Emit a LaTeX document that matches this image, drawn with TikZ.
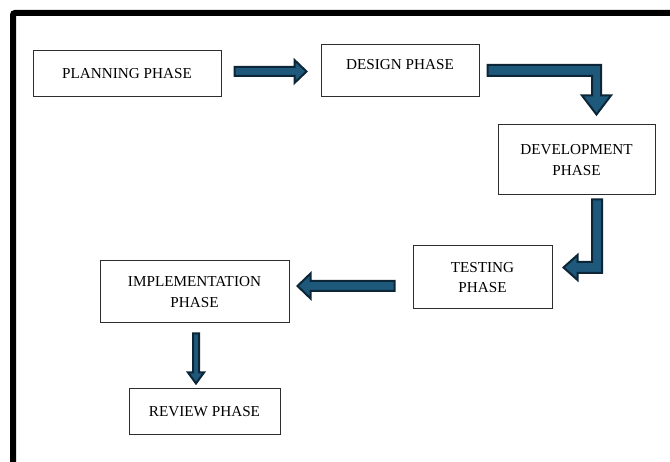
\documentclass[tikz,border=0pt]{standalone}
\usepackage{fontspec}
\setmainfont{Liberation Serif}
\usetikzlibrary{calc}

\definecolor{arrowfill}{RGB}{30,88,122}
\definecolor{arrowline}{RGB}{12,38,56}
\definecolor{boxline}{RGB}{45,45,45}

\tikzset{
  phasebox/.style={draw=boxline, line width=1pt, rectangle, align=center,
    font=\fontsize{15.2}{20.5}\selectfont, text=black, inner sep=0pt},
  blockarrow/.style={fill=arrowfill, draw=arrowline, line width=2pt, line join=miter},
  frameline/.style={line width=6pt, rounded corners=2pt}
}

\begin{document}
\begin{tikzpicture}[x=1pt, y=1pt]
  \useasboundingbox (0,0) rectangle (670,461);
  \clip (0,0) rectangle (670,461);

  % outer frame (top and left edges)
  \draw[frameline] (13,-20) -- (13,448) -- (700,448);

  % phases
  \node[phasebox, minimum width=188pt, minimum height=46pt] (plan) at (127,387) {PLANNING PHASE};
  \node[phasebox, minimum width=158pt, minimum height=52pt, text depth=14pt] (design) at (400,390) {DESIGN PHASE};
  \node[phasebox, minimum width=157pt, minimum height=70pt] (dev) at (576.5,301) {DEVELOPMENT\\PHASE};
  \node[phasebox, minimum width=139pt, minimum height=63pt] (test) at (482.5,183.5) {TESTING\\PHASE};
  \node[phasebox, minimum width=189pt, minimum height=62pt] (impl) at (194.5,169) {IMPLEMENTATION\\PHASE};
  \node[phasebox, minimum width=151pt, minimum height=46pt] (review) at (204.5,49) {REVIEW PHASE};

  % arrow ends, placed from the boxes they join
  \coordinate (a1s) at ($(plan.east)+(13,2.5)$);
  \coordinate (a1t) at ($(design.west)+(-14,-0.5)$);
  \coordinate (a2s) at ($(design.east)+(8,0.5)$);
  \coordinate (a2t) at ($(dev.north)+(20,10)$);
  \coordinate (a3s) at ($(dev.south)+(20.5,-4)$);
  \coordinate (a3t) at ($(test.east)+(11,10)$);
  \coordinate (a4s) at ($(test.west)+(-18,-8.5)$);
  \coordinate (a4t) at ($(impl.east)+(8,6)$);
  \coordinate (a5s) at ($(impl.south)+(1.5,-10)$);
  \coordinate (a5t) at ($(review.north)+(-8.5,5)$);

  % planning -> design
  \draw[blockarrow] let \p1=(a1s), \p2=(a1t) in
    (\x1,\y1+4.5) -- (\x2-12,\y1+4.5) -- (\x2-12,\y1+11.5) -- (\x2,\y1)
    -- (\x2-12,\y1-11.5) -- (\x2-12,\y1-4.5) -- (\x1,\y1-4.5) -- cycle;

  % design -> development (right, then down)
  \draw[blockarrow] let \p1=(a2s), \p2=(a2t) in
    (\x1,\y1+5.5) -- (\x2+4.5,\y1+5.5) -- (\x2+4.5,\y2+19) -- (\x2+14.5,\y2+19)
    -- (\x2,\y2) -- (\x2-14.5,\y2+19) -- (\x2-4.5,\y2+19) -- (\x2-4.5,\y1-5.5)
    -- (\x1,\y1-5.5) -- cycle;

  % development -> testing (down, then left)
  \draw[blockarrow] let \p1=(a3s), \p2=(a3t) in
    (\x1-5,\y1) -- (\x1+5,\y1) -- (\x1+5,\y2-5.5) -- (\x2+14,\y2-5.5)
    -- (\x2+14,\y2-12.5) -- (\x2,\y2) -- (\x2+14,\y2+12.5) -- (\x2+14,\y2+5.5)
    -- (\x1-5,\y2+5.5) -- cycle;

  % testing -> implementation
  \draw[blockarrow] let \p1=(a4s), \p2=(a4t) in
    (\x1,\y1+5) -- (\x2+13,\y1+5) -- (\x2+13,\y1+12.5) -- (\x2,\y1)
    -- (\x2+13,\y1-12.5) -- (\x2+13,\y1-5) -- (\x1,\y1-5) -- cycle;

  % implementation -> review
  \draw[blockarrow] let \p1=(a5s), \p2=(a5t) in
    (\x1-3,\y1) -- (\x1+3,\y1) -- (\x1+3,\y2+11) -- (\x1+8,\y2+11) -- (\x1,\y2)
    -- (\x1-8,\y2+11) -- (\x1-3,\y2+11) -- cycle;
\end{tikzpicture}
\end{document}
